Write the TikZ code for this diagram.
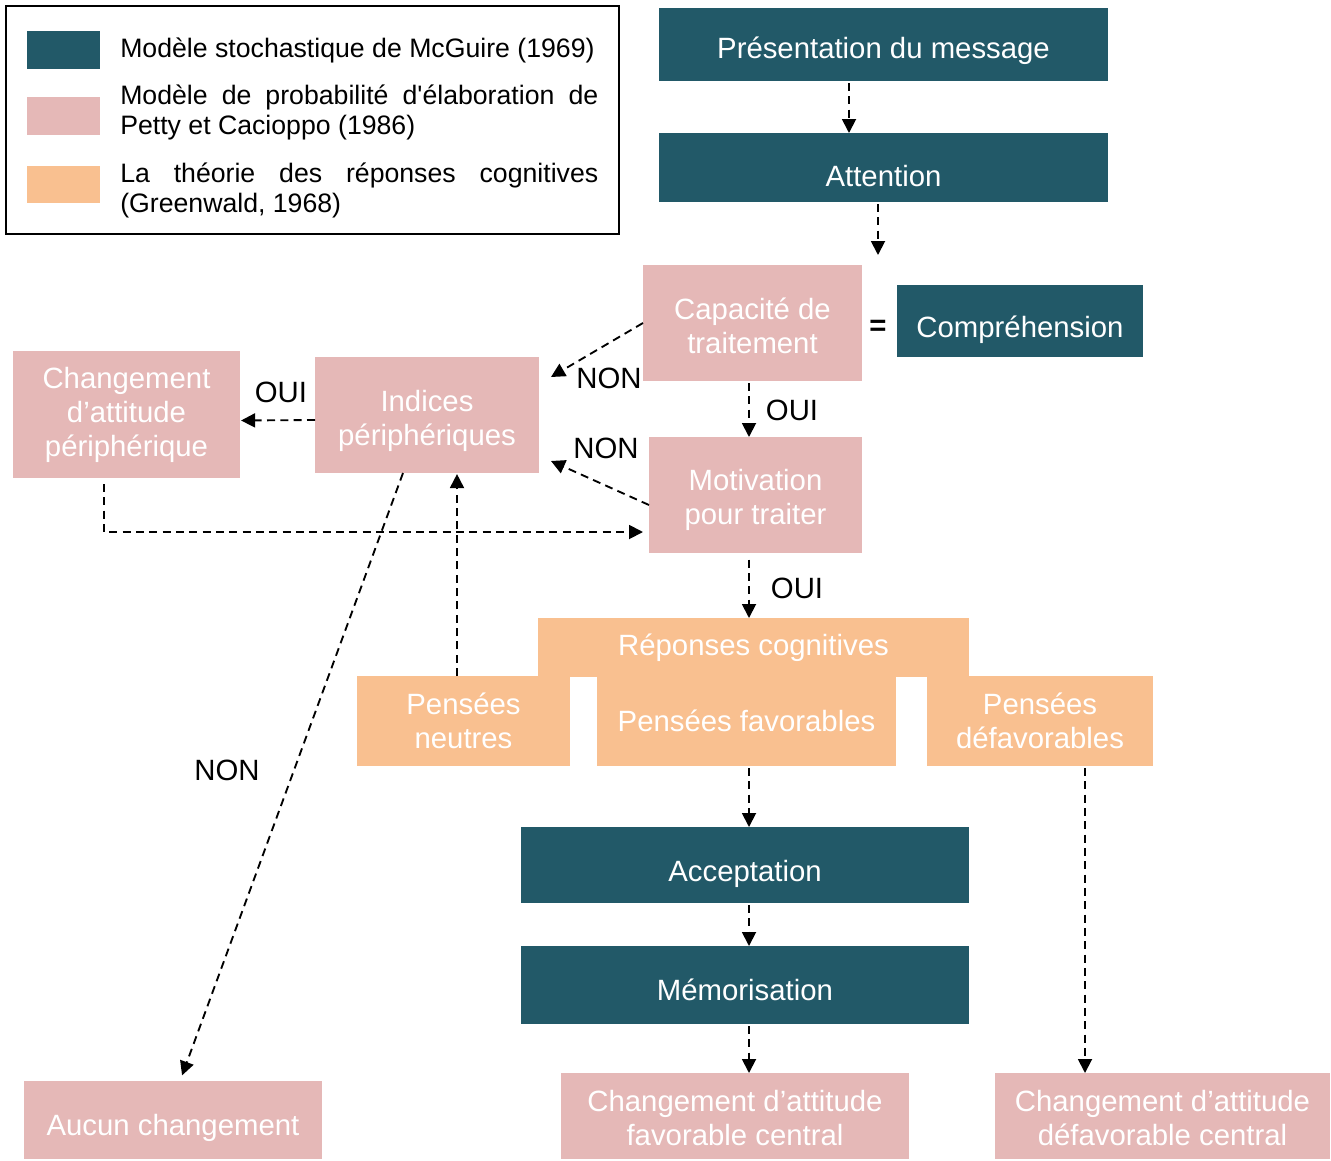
\documentclass[tikz,border=0pt]{standalone}
\usepackage{fontspec}
\setmainfont{Liberation Sans}[Ligatures=TeXOff]
\usetikzlibrary{arrows.meta}
\definecolor{mcg}{HTML}{225968}
\definecolor{elm}{HTML}{E5B8B7}
\definecolor{rcg}{HTML}{F9C090}
% \rbx{style}{x1}{y1}{x2}{y2}{name}
\newcommand\rbx[6]{\node[#1, minimum width={0.75pt*(#4-#2)}, minimum height={0.75pt*(#5-#3)}] (#6) at ({(#2+#4)/2},{(#3+#5)/2}) {};}
% \bx[text shift down, px]{style}{x1}{y1}{x2}{y2}{name}{text}
\newcommand\bx[8][0]{\rbx{#2}{#3}{#4}{#5}{#6}{#7}\node[btxt] (#7-t) at ([yshift={-0.75pt*#1}]#7.center) {#8};}
\begin{document}
\begin{tikzpicture}[x=0.75pt,y=-0.75pt,
  box/.style={inner sep=0pt, outer sep=0pt},
  btxt/.style={inner sep=0pt, align=center, text=white, font=\fontsize{22}{25.5}\selectfont},
  mcgbox/.style={box, fill=mcg},
  elmbox/.style={box, fill=elm},
  rcbox/.style={box, fill=rcg},
  arr/.style={draw=black, line width=1.4pt, dash pattern=on 6pt off 4pt, -{Triangle[length=10.5pt,width=10.5pt]}},
  lbl/.style={inner sep=0pt, font=\fontsize{22}{26}\selectfont},
  legtxt/.style={inner sep=0pt, align=left, anchor=west, font=\fontsize{20}{22.5}\selectfont},
  frame/.style={draw=black, line width=0.8pt, inner sep=0pt}
]
\useasboundingbox (0,0) rectangle (1331,1160);

% legend
\rbx{frame}{6}{6}{619}{234}{legend}
\rbx{mcgbox}{27}{31}{100}{69}{sw1}
\rbx{elmbox}{27}{97}{100}{135}{sw2}
\rbx{rcbox}{27}{166}{100}{203}{sw3}
\node[legtxt] (lt1) at (120,50) {Modèle stochastique de McGuire (1969)};
\node[legtxt] (lt2) at (120,112) {\makebox[358.5pt][s]{Modèle de probabilité d'élaboration de}\\Petty et Cacioppo (1986)};
\node[legtxt] (lt3) at (120,190) {\makebox[358.5pt][s]{La théorie des réponses cognitives}\\(Greenwald, 1968)};

% boxes
\bx[6]{mcgbox}{659}{8}{1108}{81}{pres}{Présentation du message}
\bx[8.5]{mcgbox}{659}{133}{1108}{202}{att}{Attention}
\bx[3]{elmbox}{643}{265}{862}{381}{cap}{Capacité de\\traitement}
\bx[9]{mcgbox}{897}{285}{1143}{357}{comp}{Compréhension}
\bx[6]{elmbox}{315}{357}{539}{473}{ind}{Indices\\périphériques}
\bx{elmbox}{13}{351}{240}{478}{chp}{Changement\\d’attitude\\périphérique}
\bx[5]{elmbox}{649}{437}{862}{553}{mot}{Motivation\\pour traiter}
\bx{rcbox}{538}{618}{969}{677}{rep}{Réponses cognitives}
\bx{rcbox}{357}{676}{570}{766}{neu}{Pensées\\neutres}
\bx{rcbox}{597}{676}{896}{766}{fav}{Pensées favorables}
\bx{rcbox}{927}{676}{1153}{766}{def}{Pensées\\défavorables}
\bx[8.5]{mcgbox}{521}{827}{969}{903}{acc}{Acceptation}
\bx[5]{mcgbox}{521}{946}{969}{1024}{mem}{Mémorisation}
\bx[2]{elmbox}{561}{1073}{909}{1159}{chf}{Changement d’attitude\\favorable central}
\bx[2]{elmbox}{995}{1073}{1330}{1159}{chd}{Changement d’attitude\\défavorable central}
\bx[8]{elmbox}{24}{1081}{322}{1159}{auc}{Aucun changement}

% labels
\node[lbl] (eq) at (878,328) {\textbf{=}};
\node[lbl] (n1) at (609,378) {NON};
\node[lbl] (o1) at (792,410) {OUI};
\node[lbl] (n2) at (606,448) {NON};
\node[lbl] (o2) at (281,392) {OUI};
\node[lbl] (n3) at (227,770) {NON};
\node[lbl] (o3) at (797,588) {OUI};

% free-end coordinates
\coordinate (capnon) at (551,377);
\coordinate (motnon) at (551,461);
\coordinate (chpout) at (104,484);
\coordinate (attout) at (878,255);

% connectors
\draw[arr, shorten <=1.5pt] (pres.south -| 849,0) -- (att.north -| 849,0);
\draw[arr, shorten <=1.5pt] (att.south -| 878,0) -- (attout);
\draw[arr] (cap.west) -- (capnon);
\draw[arr, shorten <=1.5pt] (cap.south -| 749,0) -- (mot.north -| 749,0);
\draw[arr] ([yshift=-7.5pt]mot.west) -- (motnon);
\draw[arr, shorten >=0.8pt] ([yshift=-3.75pt]ind.west) -- ([yshift=-4.5pt]chp.east);
\draw[arr, shorten >=4.5pt] (chpout) |- (mot.west |- 0,532);
\draw[arr, shorten >=4.5pt] (ind.south -| 403,0) -- (auc.north -| 180,0);
\draw[arr, shorten >=0.8pt] (neu.north -| 457,0) -- (ind.south -| 457,0);
\draw[arr, shorten <=5pt] (mot.south -| 749,0) -- (rep.north -| 749,0);
\draw[arr, shorten <=1.5pt] (fav.south -| 749,0) -- (acc.north -| 749,0);
\draw[arr, shorten <=1.5pt] (acc.south -| 749,0) -- (mem.north -| 749,0);
\draw[arr, shorten <=1.5pt] (mem.south -| 749,0) -- (chf.north -| 749,0);
\draw[arr, shorten <=1.5pt] (def.south -| 1085,0) -- (chd.north -| 1085,0);
\end{tikzpicture}
\end{document}
